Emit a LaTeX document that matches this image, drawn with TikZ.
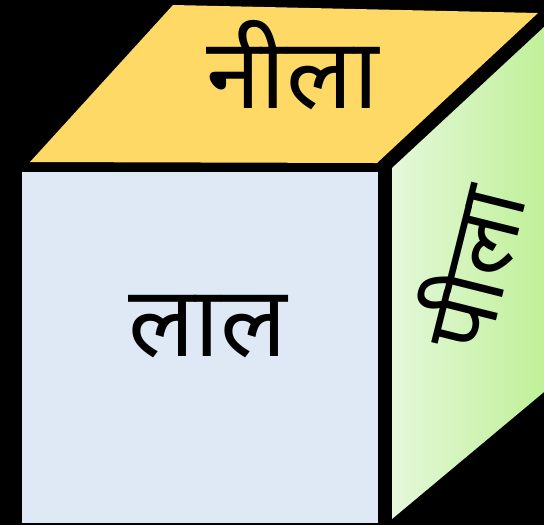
\documentclass[tikz,border=0pt]{standalone}
\usepackage{fontspec}
\newfontfamily\devfont[Script=Devanagari]{Noto Sans}
\definecolor{topyellow}{RGB}{255,217,102}
\definecolor{frontblue}{RGB}{222,233,245}
\definecolor{sidegreenl}{RGB}{228,248,218}
\definecolor{sidegreenr}{RGB}{192,240,152}

\begin{document}
\begin{tikzpicture}[x=0.02cm, y=-0.02cm,
  facelabel/.style={font=\devfont\fontsize{56}{64}\selectfont, inner sep=0pt}]
% background and bounding box
\fill[black] (0,0) rectangle (544,525);
\useasboundingbox (0,0) rectangle (544,525);
% the three faces of the cube
\fill[frontblue] (22,172) rectangle (378,523);
\fill[topyellow] (173,5) -- (538,13) -- (377,163) -- (30,162) -- cycle;
\shade[left color=sidegreenl, right color=sidegreenr]
  (392,168) -- (544,27) -- (544,392) -- (392,519) -- cycle;
% face labels
\node[facelabel, anchor=base] (toplabel) at (292.5,108) {नीला};
\node[facelabel, anchor=base] (frontlabel) at (207.5,356) {लाल};
\node[facelabel, rotate=76, scale=0.94] (sidelabel) at (468,267) {पीला};
\end{tikzpicture}
\end{document}
